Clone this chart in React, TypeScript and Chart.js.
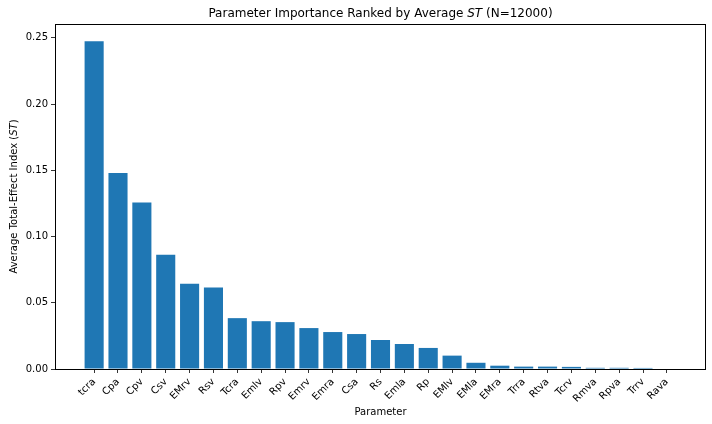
import React, { useEffect, useRef } from "react";
import { Chart, registerables } from "chart.js";

Chart.register(...registerables);

const categories = [
  "tcra", "Cpa", "Cpv", "Csv", "EMrv", "Rsv", "Tcra", "Emlv", "Rpv", "Emrv",
  "Emra", "Csa", "Rs", "Emla", "Rp", "EMlv", "EMla", "EMra", "Trra", "Rtva",
  "Tcrv", "Rmva", "Rpva", "Trrv", "Rava",
];
const stValues = [
  0.2475, 0.148, 0.1258, 0.0863, 0.0644, 0.0616, 0.0384, 0.0361, 0.0354, 0.0309,
  0.0279, 0.0264, 0.0219, 0.0189, 0.0159, 0.0101, 0.0047, 0.0025, 0.0018, 0.0018,
  0.0016, 0.0009, 0.0009, 0.0008, 0.0,
];
const yTickValues = [0, 0.05, 0.1, 0.15, 0.2, 0.25];

const FONT = "'DejaVu Sans', sans-serif";

function drawMixed(ctx: CanvasRenderingContext2D, parts: [string, boolean][], size: number) {
  let total = 0;
  const widths = parts.map(([t, it]) => {
    ctx.font = `${it ? "italic " : ""}${size}px ${FONT}`;
    const w = ctx.measureText(t).width;
    total += w;
    return w;
  });
  let x = -total / 2;
  parts.forEach(([t, it], i) => {
    ctx.font = `${it ? "italic " : ""}${size}px ${FONT}`;
    ctx.fillText(t, x, 0);
    x += widths[i];
  });
}

const decorPlugin = {
  id: "decor",
  afterDraw(chart: any) {
    const { ctx, chartArea } = chart;
    const { left, right, top, bottom } = chartArea;
    ctx.save();
    ctx.strokeStyle = "#000";
    ctx.lineWidth = 1;
    ctx.strokeRect(Math.round(left) + 0.5, Math.round(top) + 0.5, Math.round(right - left) - 1, Math.round(bottom - top));
    ctx.fillStyle = "#000";
    ctx.textAlign = "left";
    ctx.textBaseline = "middle";
    ctx.save();
    ctx.translate((left + right) / 2, 14);
    drawMixed(ctx, [["Parameter Importance Ranked by Average ", false], ["ST", true], [" (N=12000)", false]], 12);
    ctx.restore();
    ctx.save();
    ctx.translate(14, (top + bottom) / 2);
    ctx.rotate(-Math.PI / 2);
    drawMixed(ctx, [["Average Total-Effect Index (", false], ["ST", true], [")", false]], 10);
    ctx.restore();
    ctx.save();
    ctx.translate((left + right) / 2, 412);
    drawMixed(ctx, [["Parameter", false]], 10);
    ctx.restore();
    ctx.restore();
  },
};

export default function App() {
  const ref = useRef<HTMLCanvasElement | null>(null);
  useEffect(() => {
    if (!ref.current) return;
    const chart = new Chart(ref.current, {
      type: "bar",
      data: {
        datasets: [
          {
            data: stValues.map((v, i) => ({ x: i, y: v })),
            backgroundColor: "#1f77b4",
            borderWidth: 0,
            barPercentage: 0.8,
            categoryPercentage: 1.0,
          },
        ],
      },
      options: {
        animation: false,
        responsive: false,
        maintainAspectRatio: false,
        layout: { autoPadding: false, padding: { top: 24, right: 6, left: 0, bottom: 0 } },
        plugins: { legend: { display: false }, title: { display: false }, tooltip: { enabled: false } },
        scales: {
          x: {
            type: "linear",
            offset: false,
            min: -1.64,
            max: 25.64,
            afterBuildTicks: (s: any) => {
              s.ticks = categories.map((_, i) => ({ value: i }));
            },
            afterFit: (s: any) => {
              s.height = 55;
              s.paddingLeft = 0;
              s.paddingRight = 0;
            },
            grid: { display: true, offset: false, drawOnChartArea: false, drawTicks: true, tickLength: 4, color: "#000", tickWidth: 0.8 },
            border: { display: false },
            ticks: {
              autoSkip: false,
              minRotation: 45,
              maxRotation: 45,
              padding: 3,
              color: "#000",
              font: { family: FONT, size: 10 },
              callback: (v: any) => categories[v],
            },
          },
          y: {
            type: "linear",
            min: 0,
            max: 0.2605,
            afterBuildTicks: (s: any) => {
              s.ticks = yTickValues.map((v) => ({ value: v }));
            },
            afterFit: (s: any) => {
              s.width = 55;
              s.paddingTop = 0;
              s.paddingBottom = 0;
            },
            grid: { display: true, drawOnChartArea: false, drawTicks: true, tickLength: 4, color: "#000", tickWidth: 0.8 },
            border: { display: false },
            ticks: {
              padding: 3,
              color: "#000",
              font: { family: FONT, size: 10 },
              callback: (v: any) => Number(v).toFixed(2),
            },
          },
        },
      },
      plugins: [decorPlugin],
    });
    return () => chart.destroy();
  }, []);
  return (
    <div style={{ position: "absolute", left: 0, top: 0, width: 712, height: 424, background: "#fff" }}>
      <canvas ref={ref} width={712} height={424} style={{ width: 712, height: 424 }} />
    </div>
  );
}
